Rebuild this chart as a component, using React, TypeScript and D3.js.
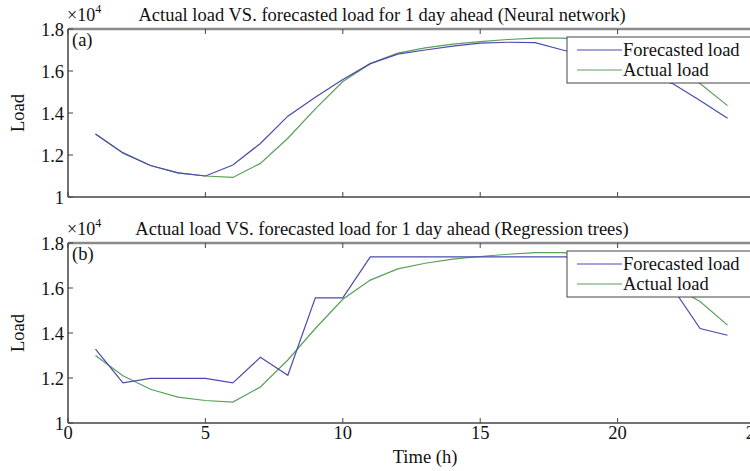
import * as d3 from "d3";

// hours 1..24
const hours = d3.range(1, 25);

// load values in units of 1e4
const actualLoad = [
  1.3, 1.21, 1.15, 1.115, 1.1, 1.093, 1.16, 1.28, 1.42, 1.55, 1.635, 1.685,
  1.71, 1.728, 1.74, 1.75, 1.757, 1.757, 1.748, 1.72, 1.675, 1.61, 1.54, 1.435,
];
const nnForecast = [
  1.3, 1.21, 1.15, 1.115, 1.1, 1.152, 1.255, 1.385, 1.475, 1.56, 1.635, 1.68,
  1.7, 1.718, 1.733, 1.737, 1.735, 1.7, 1.67, 1.63, 1.585, 1.54, 1.46, 1.375,
];
const rtForecast = [
  1.328, 1.178, 1.198, 1.198, 1.198, 1.178, 1.292, 1.212, 1.556, 1.556, 1.738,
  1.738, 1.738, 1.738, 1.738, 1.738, 1.738, 1.738, 1.738, 1.738, 1.68, 1.6,
  1.42, 1.39,
];

const xTicks = [0, 5, 10, 15, 20, 25];
const yTicks = [1, 1.2, 1.4, 1.6, 1.8];

const panels = [
  {
    tag: "(a)",
    title: "Actual load VS. forecasted load for 1 day ahead (Neural network)",
    forecast: nnForecast,
    top: 29,
    bottom: 197,
    showXLabels: false,
  },
  {
    tag: "(b)",
    title: "Actual load VS. forecasted load for 1 day ahead (Regression trees)",
    forecast: rtForecast,
    top: 243,
    bottom: 423,
    showXLabels: true,
  },
];

const BLUE = "#4a4aae";
const GREEN = "#5a9e5a";
const FONT = "'Liberation Serif', 'Times New Roman', serif";
const FS = 18.5;

const left = 68;
const right = 755;

const Panel = ({ p }: { p: (typeof panels)[number] }) => {
  const x = d3.scaleLinear().domain([0, 25]).range([left, right]);
  const y = d3.scaleLinear().domain([1, 1.8]).range([p.bottom, p.top]);
  const line = d3
    .line<number>()
    .x((_, i) => x(hours[i]))
    .y((d) => y(d));
  const tl = 5;
  const legX = 567;
  const legY = p.top + 8;
  return (
    <g fontFamily={FONT} fill="#111">
      <rect x={left} y={p.top} width={right - left} height={p.bottom - p.top} fill="#fff" />
      <path d={line(actualLoad) ?? ""} fill="none" stroke={GREEN} strokeWidth={1.2} />
      <path d={line(p.forecast) ?? ""} fill="none" stroke={BLUE} strokeWidth={1.2} />
      {/* frame */}
      <line x1={left} x2={right} y1={p.top} y2={p.top} stroke="#8a8a8a" strokeWidth={2.5} />
      <line x1={left} x2={right} y1={p.bottom} y2={p.bottom} stroke="#444" strokeWidth={1.3} />
      <line x1={left} x2={left} y1={p.top} y2={p.bottom} stroke="#444" strokeWidth={1.5} />
      <line x1={right} x2={right} y1={p.top} y2={p.bottom} stroke="#444" strokeWidth={1.3} />
      {xTicks.map((t) => (
        <g key={"x" + t}>
          <line x1={x(t)} x2={x(t)} y1={p.bottom} y2={p.bottom - tl} stroke="#444" />
          <line x1={x(t)} x2={x(t)} y1={p.top} y2={p.top + tl} stroke="#444" />
          {p.showXLabels && (
            <text x={x(t)} y={p.bottom + 16} fontSize={FS} textAnchor="middle">
              {t}
            </text>
          )}
        </g>
      ))}
      {yTicks.map((t) => (
        <g key={"y" + t}>
          <line x1={left} x2={left + tl} y1={y(t)} y2={y(t)} stroke="#444" />
          <line x1={right} x2={right - tl} y1={y(t)} y2={y(t)} stroke="#444" />
          <text x={left - 4} y={y(t) + 6.5} fontSize={FS} textAnchor="end">
            {t}
          </text>
        </g>
      ))}
      <text x={left - 1} y={p.top - 8} fontSize={18}>
        ×10
        <tspan dy={-8} fontSize={12}>
          4
        </tspan>
      </text>
      <text x={382} y={p.top - 8} fontSize={FS} textAnchor="middle">
        {p.title}
      </text>
      <text x={left + 4} y={p.top + 17} fontSize={FS}>
        {p.tag}
      </text>
      <text
        transform={`translate(24,${(p.top + p.bottom) / 2}) rotate(-90)`}
        fontSize={FS}
        textAnchor="middle"
      >
        Load
      </text>
      {/* legend */}
      <rect x={legX} y={legY} width={185} height={46} fill="#fff" stroke="#444" strokeWidth={1} />
      <line x1={legX + 10} x2={legX + 55} y1={legY + 13} y2={legY + 13} stroke={BLUE} strokeWidth={1.2} />
      <text x={legX + 56} y={legY + 19} fontSize={FS}>
        Forecasted load
      </text>
      <line x1={legX + 10} x2={legX + 55} y1={legY + 33} y2={legY + 33} stroke={GREEN} strokeWidth={1.2} />
      <text x={legX + 56} y={legY + 39} fontSize={FS}>
        Actual load
      </text>
    </g>
  );
};

export default function App() {
  return (
    <svg
      width={750}
      height={471}
      style={{ position: "absolute", left: 0, top: 0, background: "#fff" }}
    >
      {panels.map((p) => (
        <Panel key={p.tag} p={p} />
      ))}
      <text
        x={425}
        y={463}
        fontSize={FS}
        textAnchor="middle"
        fontFamily={FONT}
        fill="#111"
      >
        Time (h)
      </text>
    </svg>
  );
}
